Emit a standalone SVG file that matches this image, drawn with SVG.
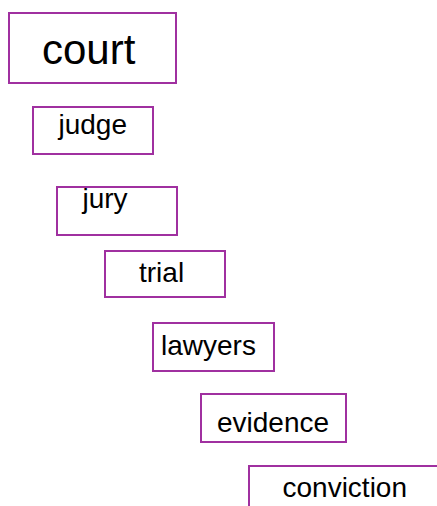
<svg xmlns="http://www.w3.org/2000/svg" width="437" height="506" viewBox="0 0 437 506">
<style>
rect.box{fill:#ffffff;stroke:#a030a0;stroke-width:2}
text{font-family:"Liberation Sans",Arial,sans-serif;fill:#000000;font-size:28px}
text.big{font-size:42px}
</style>
<rect width="437" height="506" fill="#ffffff"/>
<g id="connectors"></g>
<g id="court"><rect class="box" x="9" y="13" width="167" height="70"/><text class="big" x="42" y="64">court</text></g>
<g id="judge"><rect class="box" x="33" y="107" width="120" height="47"/><text x="58.5" y="134">judge</text></g>
<g id="jury"><rect class="box" x="57" y="187" width="120" height="48"/><text x="82.5" y="208">jury</text></g>
<g id="trial"><rect class="box" x="105" y="251" width="120" height="46"/><text x="139" y="282">trial</text></g>
<g id="lawyers"><rect class="box" x="153" y="323" width="121" height="48"/><text x="161" y="355">lawyers</text></g>
<g id="evidence"><rect class="box" x="201" y="394" width="145" height="48"/><text x="217" y="432">evidence</text></g>
<g id="conviction"><rect class="box" x="249" y="466" width="200" height="60"/><text x="282.5" y="497">conviction</text></g>
</svg>
